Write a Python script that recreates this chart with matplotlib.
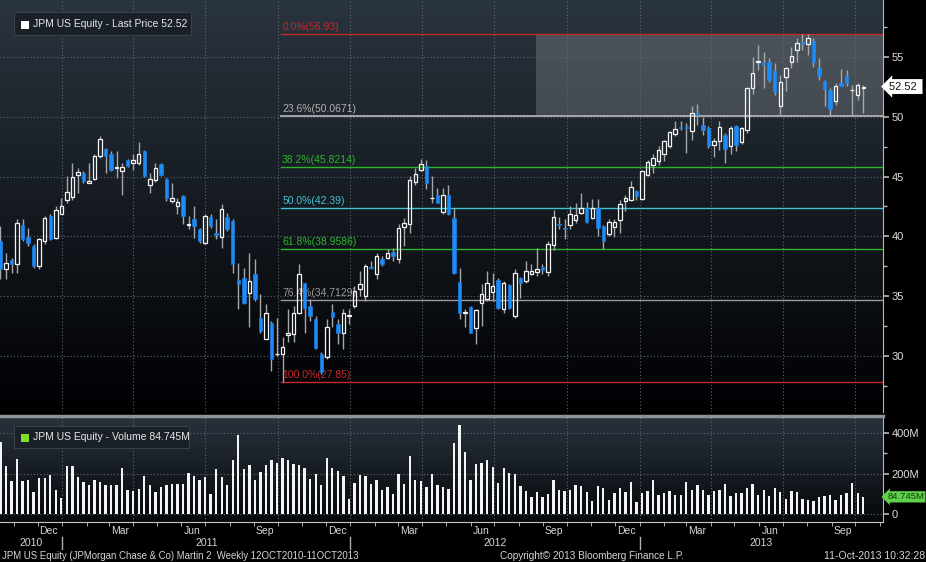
import numpy as np
import pandas as pd
import matplotlib
matplotlib.use('Agg')
import matplotlib.pyplot as plt
import matplotlib.dates as mdates
import matplotlib.transforms as mtransforms
from matplotlib.patches import Rectangle
from matplotlib.collections import LineCollection

plt.rcParams['font.family'] = ['Liberation Sans', 'DejaVu Sans']

W, H = 926, 562

# weekly bars, JPM US Equity, 15-Oct-2010 .. 11-Oct-2013
dates = pd.date_range('2010-10-15', periods=157, freq='W-FRI')

opens = [39.61, 37.25, 38.03, 37.67, 40.97, 39.94, 39.19, 37.53, 39.61, 41.69,
         39.89, 41.89, 43.08, 43.31, 45.11, 45.31, 44.47, 44.81, 46.69, 47.31,
         46.92, 45.75, 45.44, 46.42, 46.14, 46.14, 47.11, 44.33, 44.75, 46.08,
         44.83, 42.94, 42.53, 43.36, 40.97, 41.42, 40.64, 39.47, 41.64, 40.25,
         39.97, 41.64, 41.28, 36.33, 36.56, 35.31, 36.89, 33.22, 31.42, 32.75,
         30.14, 30.17, 31.75, 31.83, 33.64, 36.08, 34.19, 33.08, 30.17, 29.89,
         33.72, 32.67, 31.97, 33.36, 34.19, 35.58, 35.03, 37.45, 36.83, 38.14,
         38.17, 38.72, 38.14, 40.81, 41.00, 44.53, 45.58, 45.86, 43.20, 43.44,
         42.03, 43.42, 41.56, 36.19, 33.58, 34.11, 32.31, 34.47, 34.80, 35.33,
         36.33, 33.92, 35.92, 33.31, 36.56, 36.28, 36.89, 37.03, 37.47, 37.03,
         39.25, 41.06, 40.72, 40.92, 41.36, 41.97, 42.36, 41.56, 42.39, 40.86,
         40.17, 40.78, 41.36, 42.94, 43.08, 43.78, 43.14, 45.17, 45.94, 46.28,
         46.92, 47.58, 48.58, 49.14, 49.14, 48.78, 50.28, 49.33, 49.06, 47.61,
         47.94, 48.50, 47.53, 49.19, 47.86, 48.92, 52.39, 54.56, 54.61, 54.61,
         53.78, 50.92, 53.31, 54.61, 55.58, 56.28, 56.06, 56.36, 54.11, 53.00,
         52.25, 51.28, 52.81, 53.44, 52.22, 51.83, 52.39]
highs = [40.86, 38.64, 38.22, 41.42, 41.42, 40.72, 39.33, 39.89, 41.69, 41.83,
         42.53, 43.22, 45.03, 46.14, 45.72, 45.44, 46.14, 46.92, 48.42, 47.39,
         47.11, 47.11, 46.14, 46.50, 46.92, 47.86, 47.25, 45.31, 46.14, 46.14,
         44.89, 44.47, 43.22, 43.50, 41.69, 42.53, 40.72, 41.83, 41.83, 41.42,
         42.67, 41.97, 41.42, 37.81, 37.39, 38.64, 38.08, 35.17, 34.33, 32.94,
         33.22, 31.56, 33.92, 34.19, 37.67, 36.14, 34.75, 33.36, 30.31, 33.08,
         34.33, 33.08, 33.92, 33.92, 35.86, 37.11, 37.67, 37.94, 38.64, 38.36,
         38.92, 39.06, 41.00, 41.56, 45.03, 45.72, 46.47, 46.42, 45.08, 44.06,
         44.06, 44.33, 42.39, 37.39, 33.92, 34.19, 33.92, 36.00, 37.10, 36.97,
         36.50, 36.28, 36.06, 37.31, 36.58, 37.94, 37.67, 39.06, 37.67, 39.58,
         42.19, 41.64, 41.42, 42.53, 42.75, 43.64, 42.89, 43.14, 43.14, 40.97,
         41.42, 41.47, 43.08, 43.50, 44.61, 43.86, 45.58, 46.42, 46.92, 47.53,
         48.08, 48.78, 49.61, 49.61, 49.47, 50.92, 51.08, 49.97, 49.19, 48.22,
         49.61, 48.64, 49.25, 49.33, 49.14, 52.47, 54.97, 56.00, 55.44, 54.89,
         54.47, 53.50, 54.19, 55.86, 56.56, 56.92, 56.93, 56.56, 54.89, 53.08,
         52.39, 52.81, 53.97, 53.92, 52.67, 52.81, 52.67]
lows = [36.42, 36.42, 36.97, 36.97, 39.61, 39.19, 37.39, 37.25, 39.33, 39.69,
        39.75, 41.83, 42.81, 43.08, 43.64, 44.47, 44.42, 44.69, 46.56, 45.31,
        45.44, 44.89, 43.50, 45.80, 45.58, 46.00, 44.97, 43.64, 44.53, 45.03,
        42.94, 42.81, 41.83, 41.00, 40.58, 39.89, 39.47, 39.33, 40.72, 39.75,
        39.06, 40.44, 36.97, 33.92, 34.33, 32.39, 34.61, 31.97, 31.42, 28.78,
        30.03, 27.85, 31.14, 31.14, 33.50, 31.97, 32.97, 30.58, 28.50, 29.75,
        32.39, 31.00, 30.58, 32.67, 34.06, 35.03, 34.61, 37.31, 36.42, 37.53,
        38.08, 37.94, 37.81, 39.19, 40.31, 44.33, 45.44, 43.97, 42.75, 42.75,
        41.83, 41.75, 36.83, 33.08, 32.39, 31.90, 31.00, 32.53, 34.60, 34.61,
        33.92, 33.64, 33.90, 33.22, 34.89, 36.14, 36.75, 36.69, 36.83, 36.69,
        38.86, 40.64, 39.81, 40.58, 41.14, 41.83, 41.08, 41.42, 40.03, 38.97,
        40.03, 39.97, 40.31, 42.11, 42.94, 43.08, 43.08, 45.03, 45.31, 45.94,
        46.28, 47.39, 48.36, 48.92, 46.97, 48.08, 49.33, 48.50, 47.39, 46.64,
        47.25, 46.14, 46.92, 47.11, 47.75, 48.64, 51.92, 53.92, 52.39, 52.94,
        51.83, 50.17, 52.11, 54.06, 54.61, 55.58, 55.17, 54.19, 53.08, 50.86,
        50.17, 51.00, 52.53, 52.53, 50.17, 51.36, 50.31]
closes = [37.25, 37.81, 37.67, 41.08, 39.75, 39.47, 37.53, 39.75, 41.56, 39.75,
          42.17, 42.53, 43.72, 44.97, 45.36, 44.61, 44.67, 46.69, 48.14, 46.69,
          45.58, 45.80, 45.81, 45.86, 46.42, 46.92, 45.03, 44.83, 45.72, 45.11,
          43.17, 43.22, 42.89, 41.69, 41.00, 40.86, 39.61, 41.69, 40.86, 40.08,
          42.31, 40.58, 37.67, 36.00, 34.47, 36.28, 34.75, 32.11, 33.58, 29.75,
          30.17, 30.78, 31.97, 33.58, 36.83, 34.06, 33.36, 30.64, 28.64, 32.39,
          33.28, 31.97, 33.64, 33.42, 35.44, 36.06, 37.53, 37.39, 38.36, 37.72,
          38.58, 38.36, 40.72, 41.08, 44.69, 45.22, 46.06, 44.42, 43.25, 42.81,
          43.42, 41.83, 36.97, 33.58, 33.70, 31.97, 33.83, 35.17, 36.10, 35.86,
          34.06, 36.14, 34.06, 36.97, 36.14, 37.11, 37.11, 37.31, 37.17, 39.39,
          41.64, 40.97, 40.60, 41.83, 41.75, 42.39, 41.19, 42.39, 40.72, 39.58,
          41.19, 41.19, 42.67, 43.22, 44.11, 43.36, 45.44, 46.22, 46.56, 47.25,
          47.94, 48.72, 48.97, 49.08, 49.06, 50.31, 50.11, 48.92, 47.53, 47.94,
          49.11, 47.31, 49.06, 47.67, 49.06, 52.39, 53.69, 54.64, 54.33, 53.08,
          52.03, 52.86, 54.06, 55.03, 56.19, 56.08, 56.56, 54.61, 53.36, 52.33,
          50.64, 52.58, 52.58, 52.81, 52.25, 52.67, 52.52]
# weekly volume, millions of shares
volume = [357, 237, 163, 271, 163, 166, 110, 176, 179, 193,
          121, 80, 237, 237, 184, 159, 141, 166, 159, 144,
          144, 144, 229, 121, 113, 125, 189, 141, 110, 133,
          141, 146, 146, 146, 201, 189, 169, 181, 100, 222,
          181, 144, 267, 390, 222, 244, 169, 206, 241, 267,
          254, 279, 267, 249, 241, 226, 174, 196, 144, 279,
          226, 214, 189, 76, 154, 193, 186, 149, 166, 121,
          133, 100, 196, 149, 284, 166, 161, 133, 196, 144,
          134, 125, 350, 440, 307, 166, 249, 251, 267, 234,
          154, 226, 201, 199, 138, 116, 83, 110, 83, 100,
          166, 121, 116, 121, 141, 138, 110, 63, 138, 126,
          71, 105, 126, 108, 158, 60, 105, 116, 166, 93,
          105, 116, 93, 96, 158, 121, 144, 121, 96, 113,
          118, 149, 88, 105, 105, 126, 149, 96, 121, 88,
          129, 110, 76, 116, 110, 76, 71, 63, 83, 88,
          93, 71, 93, 105, 151, 105, 84.745]

fib_pcts = [0.0, 0.236, 0.382, 0.5, 0.618, 0.764, 1.0]
fib_colors = ['#c42a2a', '#b0b0b0', '#2bb52b', '#3fc3d3', '#2bb52b', '#9a9a9a', '#c42a2a']
vol_ticks = [0, 200, 400]
vol_tick_labels = ['0', '200M', '400M']
price_ticks = [30, 35, 40, 45, 50, 55]
month_labels = {12: 'Dec', 3: 'Mar', 6: 'Jun', 9: 'Sep'}

fig = plt.figure(figsize=(W / 100, H / 100), dpi=100)
fig.patch.set_facecolor('black')


def fx(px):
    return px / W


def fy(py):
    return 1 - py / H


ax = fig.add_axes([0, fy(412), fx(883), 412 / H])
axv = fig.add_axes([0, fy(522), fx(883), (522 - 416) / H], sharex=ax)


def gradient(a, top, bot):
    t = np.linspace(0, 1, 256)[:, None, None]
    img = np.array(top)[None, None, :] + (np.array(bot) - np.array(top))[None, None, :] * t
    a.imshow(img, extent=[0, 1, 0, 1], transform=a.transAxes, aspect='auto',
             zorder=0, interpolation='bilinear')


gradient(ax, (0.165, 0.205, 0.245), (0.0, 0.0, 0.01))
gradient(axv, (0.16, 0.195, 0.235), (0.02, 0.03, 0.045))

xd = mdates.date2num(dates)
x_left = xd[0] - 0.6
x_right = xd[-1] + 25

# candles
o = np.array(opens); h = np.array(highs); l = np.array(lows); c = np.array(closes)
bw = 4.4
segs = []
for xi, oi, hi, li, ci in zip(xd, o, h, l, c):
    top, bot = max(oi, ci), min(oi, ci)
    segs.append([(xi, top), (xi, hi)])
    segs.append([(xi, li), (xi, bot)])
    if ci >= oi:
        ax.add_patch(Rectangle((xi - bw / 2, bot), bw, max(top - bot, 0.05),
                               facecolor='none', edgecolor='#f4f4f4', lw=0.9, zorder=4))
    else:
        ax.add_patch(Rectangle((xi - bw / 2, bot), bw, max(top - bot, 0.05),
                               facecolor='#1d8cf8', edgecolor='#1d8cf8', lw=0.4, zorder=4))
ax.add_collection(LineCollection(segs, colors='#a4a8ac', linewidths=1.0, zorder=3))

# fibonacci retracement
hi_p, lo_p = max(highs), min(lows)
x_fib = xd[int(np.argmin(lows))] - 1.5
levels = [hi_p - p * (hi_p - lo_p) for p in fib_pcts]
for p, lev, col in zip(fib_pcts, levels, fib_colors):
    ax.plot([x_fib, x_right], [lev, lev], color=col, lw=1.3 if p == 0.236 else 1.0, zorder=2)
    ax.text(x_fib + 1, lev + 0.15, f'{p * 100:.1f}%({lev:g})', color=col,
            fontsize=7.5, va='bottom', ha='left', zorder=2)

rect_start = mdates.date2num(pd.Timestamp('2012-08-23'))
ax.add_patch(Rectangle((rect_start, levels[1]), x_right - rect_start, levels[0] - levels[1],
                       facecolor='white', alpha=0.17, edgecolor='none', zorder=1))

# grid
quarters = pd.date_range('2011-01-01', '2013-10-01', freq='QS')
for a in (ax, axv):
    for q in quarters:
        a.axvline(mdates.date2num(q), color='#5f6770', lw=0.8, ls=(0, (1, 2)), zorder=1)
for yv in price_ticks:
    ax.axhline(yv, color='#5f6770', lw=0.8, ls=(0, (1, 2)), zorder=1)
for yv in vol_ticks:
    axv.axhline(yv, color='#5f6770', lw=0.8, ls=(0, (1, 2)), zorder=1)

ax.set_xlim(x_left, x_right)
ax.set_ylim(25.33, 59.75)
axv.set_ylim(-39.5, 484)

# volume
axv.bar(xd, volume, width=3.0, color='#f4f4f4', zorder=3)

# axes styling
for a in (ax, axv):
    for s in ('left', 'top'):
        a.spines[s].set_visible(False)
    a.spines['right'].set_color('#b8b8b8')
    a.yaxis.tick_right()
    a.tick_params(axis='y', which='both', colors='#b8b8b8', labelcolor='#dedede',
                  labelsize=8, direction='out', pad=2)
    a.tick_params(axis='y', which='major', length=4, width=1.2)
    a.tick_params(axis='y', which='minor', length=3, width=1)
ax.spines['bottom'].set_visible(False)
ax.set_yticks(price_ticks)
ax.set_yticks([27.5, 32.5, 37.5, 42.5, 47.5, 52.5, 57.5], minor=True)
ax.tick_params(axis='x', which='both', bottom=False, labelbottom=False)

axv.spines['bottom'].set_color('#c8c8c8')
axv.spines['top'].set_visible(True)
axv.spines['top'].set_color('#8e9296')
axv.spines['top'].set_linewidth(2.5)
axv.set_yticks(vol_ticks)
axv.set_yticklabels(vol_tick_labels)
axv.set_yticks([100, 300], minor=True)

month_starts = pd.date_range('2010-11-01', '2013-11-01', freq='MS')
axv.set_xticks(mdates.date2num(month_starts), minor=True)
mids = [d + pd.Timedelta(days=14) for d in pd.date_range('2010-12-01', '2013-09-01', freq='MS')
        if d.month in month_labels]
axv.set_xticks(mdates.date2num(mids))
axv.set_xticklabels([month_labels[d.month] for d in mids])
axv.tick_params(axis='x', which='major', length=0, labelsize=7.5, labelcolor='#d6d6d6', pad=3)
axv.tick_params(axis='x', which='minor', length=3, color='#c8c8c8', direction='out')

# years under the months
trans = mtransforms.blended_transform_factory(axv.transData, fig.transFigure)
years = [2010, 2011, 2012, 2013]
for yr in years:
    a0 = max(mdates.date2num(pd.Timestamp(f'{yr}-01-01')), x_left)
    a1 = min(mdates.date2num(pd.Timestamp(f'{yr + 1}-01-01')), x_right)
    fig.text((a0 + a1) / 2, fy(543), str(yr), transform=trans, ha='center', va='center',
             fontsize=7.5, color='#d6d6d6')
    if yr > 2010:
        sep = mdates.date2num(pd.Timestamp(f'{yr}-01-01'))
        fig.add_artist(plt.Line2D([sep, sep], [fy(537), fy(549)], transform=trans,
                                  color='#b0b0b0', lw=1))

# legends
fig.add_artist(Rectangle((fx(14), fy(35)), fx(177), 23 / H, transform=fig.transFigure,
                         facecolor='#1a2027', edgecolor='#3a4149', lw=0.8))
fig.add_artist(Rectangle((fx(21), fy(28.5)), fx(8), 8 / H, transform=fig.transFigure,
                         facecolor='white', edgecolor='none'))
fig.text(fx(33), fy(24), f'JPM US Equity - Last Price {closes[-1]:.2f}', fontsize=7.5,
         color='#e6e6e6', va='center', ha='left')

fig.add_artist(Rectangle((fx(14), fy(448)), fx(175), 22 / H, transform=fig.transFigure,
                         facecolor='#1a2027', edgecolor='#3a4149', lw=0.8))
fig.add_artist(Rectangle((fx(21), fy(441.5)), fx(8), 8 / H, transform=fig.transFigure,
                         facecolor='#7ee01e', edgecolor='none'))
fig.text(fx(33), fy(437), f'JPM US Equity - Volume {volume[-1]:.3f}M', fontsize=7.5,
         color='#e6e6e6', va='center', ha='left')

# last value tags on the right axis
ax.text(1.007, closes[-1], f'{closes[-1]:.2f} ', transform=mtransforms.blended_transform_factory(
    ax.transAxes, ax.transData), fontsize=8, color='#101010', va='center', ha='left',
    bbox=dict(boxstyle='larrow,pad=0.22', facecolor='white', edgecolor='none'), zorder=6,
    clip_on=False)
axv.text(1.005, volume[-1], f'{volume[-1]:.3f}M', transform=mtransforms.blended_transform_factory(
    axv.transAxes, axv.transData), fontsize=6.8, color='#0c3d0c', va='center', ha='left',
    bbox=dict(boxstyle='larrow,pad=0.12', facecolor='#5fd24a', edgecolor='none'), zorder=6,
    clip_on=False)

# footer
fig.text(fx(2), fy(556), 'JPM US Equity (JPMorgan Chase & Co) Martin 2  Weekly 12OCT2010-11OCT2013',
         fontsize=6.9, color='#d6d6d6', va='center', ha='left')
fig.text(fx(500), fy(556), 'Copyright\u00a9 2013 Bloomberg Finance L.P.', fontsize=7.2,
         color='#d6d6d6', va='center', ha='left')
fig.text(fx(925), fy(556), '11-Oct-2013 10:32:28', fontsize=7.5, color='#d6d6d6',
         va='center', ha='right')

fig.savefig('out.png', dpi=100, facecolor='black')
